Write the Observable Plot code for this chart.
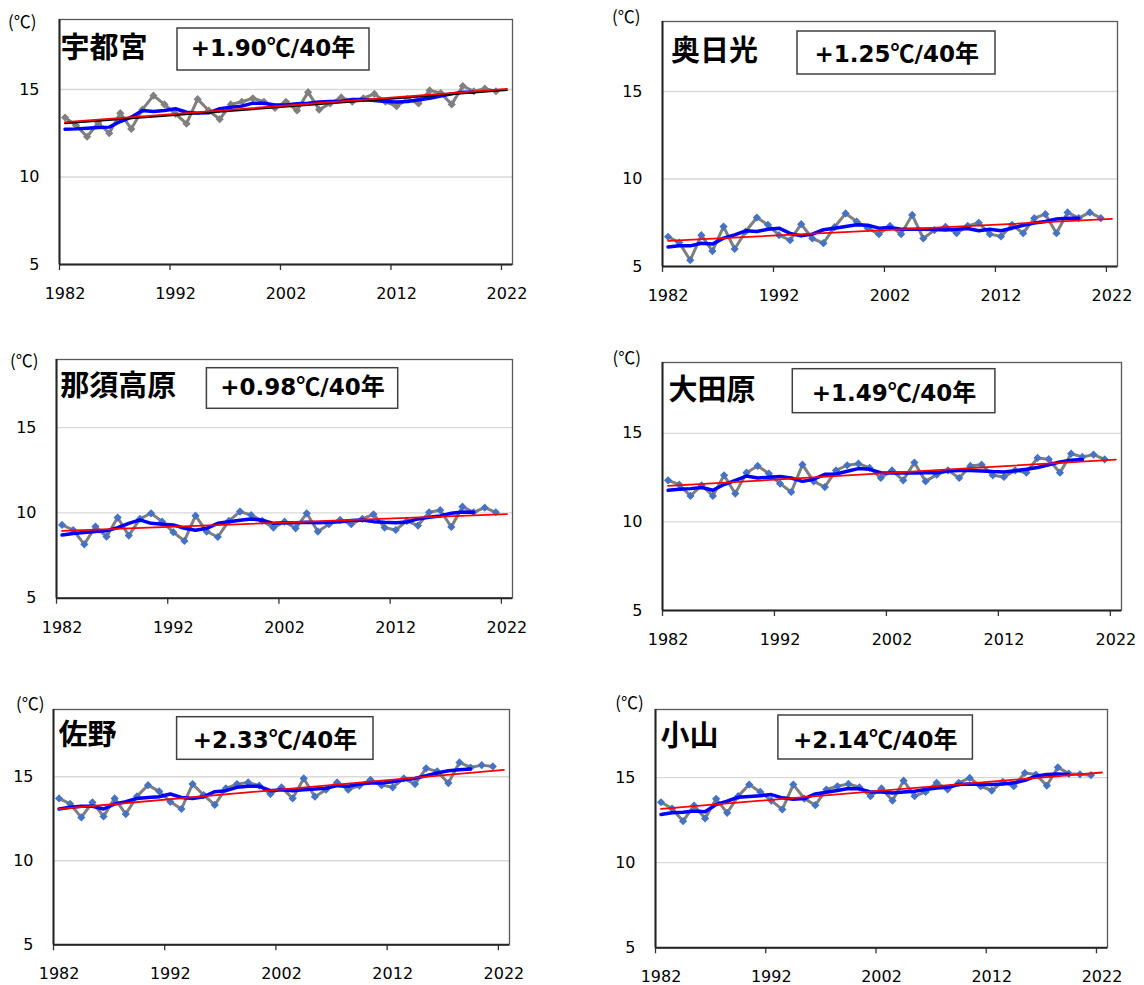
<!DOCTYPE html>
<html><head><meta charset="utf-8">
<script src="https://cdn.jsdelivr.net/npm/d3@7"></script>
<script src="https://cdn.jsdelivr.net/npm/@observablehq/plot@0.6"></script>
<style>
html,body{margin:0;padding:0;background:#fff;overflow:hidden;}
#page{position:relative;width:1144px;height:985px;overflow:hidden;}
</style></head><body><div id="page"></div>
<script>
// ---- data ----
const years = [1982,1983,1984,1985,1986,1987,1988,1989,1990,1991,1992,1993,1994,1995,1996,1997,1998,1999,2000,2001,2002,2003,2004,2005,2006,2007,2008,2009,2010,2011,2012,2013,2014,2015,2016,2017,2018,2019,2020,2021];
const maYears = [1982,1983,1984,1985,1986,1987,1988,1989,1990,1991,1992,1993,1994,1995,1996,1997,1998,1999,2000,2001,2002,2003,2004,2005,2006,2007,2008,2009,2010,2011,2012,2013,2014,2015,2016,2017,2018,2019];
const trendYears = [1982, 2022];
const xTickLabels = [1982, 1992, 2002, 2012, 2022];
const xTickMarks = [1981.5, 1991.5, 2001.5, 2011.5, 2021.5];
const yTicks = [5, 10, 15];
const yGrid = [10, 15];

const stationNames = ["宇都宮", "奥日光", "那須高原", "大田原", "佐野", "小山"];
const rateValues = ["+1.90", "+1.25", "+0.98", "+1.49", "+2.33", "+2.14"];
const rateUnit = ["℃", "/40", "年"];

const utsunomiya = [13.4,12.95,12.3,13.1,12.5,13.65,12.75,13.85,14.65,14.15,13.6,13.05,14.45,13.8,13.3,14.15,14.3,14.5,14.3,13.95,14.3,13.8,14.85,13.85,14.2,14.55,14.3,14.5,14.75,14.3,14.05,14.45,14.2,14.95,14.8,14.15,15.2,14.9,15.05,14.9];
const utsunomiyaMA = [12.73,12.75,12.79,12.83,12.85,13.17,13.42,13.8,13.74,13.8,13.9,13.7,13.65,13.67,13.9,13.99,14.05,14.22,14.22,14.12,14.12,14.18,14.22,14.28,14.31,14.33,14.43,14.43,14.37,14.31,14.28,14.31,14.41,14.5,14.62,14.75,14.85,14.85];
const utsunomiyaTrend = [13.13, 15.03];

const okunikko = [6.70,6.37,5.36,6.79,5.88,7.28,6.0,7.0,7.8,7.38,6.79,6.5,7.42,6.6,6.33,7.25,8.03,7.57,7.19,6.85,7.32,6.85,7.95,6.6,7.08,7.27,6.9,7.32,7.5,6.85,6.72,7.38,6.9,7.76,7.99,6.9,8.09,7.76,8.09,7.76];
const okunikkoMA = [6.12,6.18,6.18,6.33,6.28,6.62,6.81,7.04,7.0,7.13,7.19,6.89,6.75,6.85,7.1,7.19,7.29,7.38,7.36,7.19,7.23,7.13,7.13,7.13,7.12,7.08,7.13,7.17,7.04,7.13,7.04,7.19,7.36,7.48,7.57,7.71,7.76,7.76];
const okunikkoTrend = [6.47, 7.72];

const nasu = [9.30,9.0,8.16,9.2,8.61,9.73,8.67,9.65,9.98,9.49,8.87,8.36,9.84,8.91,8.59,9.53,10.08,9.88,9.53,9.14,9.49,9.1,9.98,8.91,9.34,9.59,9.34,9.65,9.92,9.14,9.0,9.53,9.26,10.04,10.16,9.18,10.37,10.04,10.31,10.04];
const nasuMA = [8.71,8.79,8.85,8.91,8.95,9.14,9.39,9.59,9.39,9.34,9.3,9.1,8.98,9.1,9.39,9.49,9.57,9.65,9.57,9.39,9.43,9.43,9.45,9.43,9.45,9.49,9.55,9.59,9.49,9.45,9.43,9.47,9.65,9.75,9.82,9.98,10.06,10.04];
const nasuTrend = [8.95, 9.93];

const ohtawara = [12.35,12.1,11.47,12.07,11.47,12.63,11.6,12.78,13.16,12.73,12.16,11.69,13.23,12.29,11.97,12.91,13.2,13.29,13.05,12.48,12.91,12.35,13.35,12.29,12.67,12.91,12.48,13.16,13.23,12.63,12.54,12.91,12.78,13.61,13.54,12.78,13.85,13.67,13.8,13.53];
const ohtawaraMA = [11.79,11.85,11.88,11.94,11.79,12.11,12.35,12.59,12.48,12.52,12.56,12.48,12.29,12.41,12.69,12.71,12.86,13.01,12.97,12.78,12.76,12.76,12.76,12.78,12.78,12.88,12.91,12.91,12.88,12.84,12.82,12.89,12.97,13.07,13.23,13.38,13.48,13.52];
const ohtawaraTrend = [12.03, 13.52];

const sano = [13.71,13.38,12.58,13.48,12.64,13.71,12.78,13.83,14.5,14.13,13.51,13.08,14.56,13.91,13.32,14.31,14.56,14.66,14.47,13.97,14.37,13.71,14.9,13.81,14.23,14.66,14.23,14.47,14.82,14.5,14.37,14.9,14.56,15.5,15.32,14.62,15.85,15.55,15.69,15.61];
const sanoMA = [13.08,13.18,13.24,13.24,13.08,13.38,13.51,13.71,13.77,13.81,13.97,13.77,13.71,13.81,14.11,14.17,14.37,14.43,14.43,14.17,14.23,14.17,14.23,14.27,14.31,14.47,14.43,14.56,14.62,14.62,14.7,14.82,14.9,15.06,15.22,15.36,15.42,15.46];
const sanoTrend = [13.08, 15.41];

const oyama = [13.55,13.18,12.44,13.36,12.6,13.75,12.93,13.91,14.59,14.16,13.65,13.13,14.59,13.77,13.38,14.3,14.49,14.63,14.43,13.91,14.36,13.65,14.82,13.91,14.16,14.69,14.3,14.69,14.98,14.49,14.24,14.75,14.49,15.27,15.18,14.53,15.6,15.23,15.19,15.14];
const oyamaMA = [12.83,12.93,12.97,13.03,12.99,13.42,13.61,13.85,13.89,13.93,14.0,13.81,13.73,13.77,14.04,14.14,14.24,14.36,14.34,14.16,14.16,14.1,14.16,14.2,14.3,14.39,14.43,14.59,14.63,14.59,14.59,14.63,14.69,14.84,15.08,15.18,15.21,15.18];
const oyamaTrend = [13.16, 15.30];

// ---- layout ----
const panels = [
  {temps: utsunomiya, ma: utsunomiyaMA, trend: utsunomiyaTrend, dot: "#808080", blackTrend: true,
   frame: {l: 59, t: 19, r: 512, b: 264}, label: {x: 60.5, y: 58}, box: {x: 177, y: 28, w: 192, h: 42}, boxText: {x: 273, y: 56}, unit: {x: 8, y: 28}},
  {temps: okunikko, ma: okunikkoMA, trend: okunikkoTrend, dot: "#4472c4",
   frame: {l: 662, t: 20.7, r: 1117, b: 265.7}, label: {x: 671, y: 61.3}, box: {x: 797, y: 31, w: 198, h: 43}, boxText: {x: 896.7, y: 61.7}, unit: {x: 612, y: 23}},
  {temps: nasu, ma: nasuMA, trend: nasuTrend, dot: "#4472c4",
   frame: {l: 56, t: 359, r: 512, b: 597.7}, label: {x: 60.3, y: 396.3}, box: {x: 206.4, y: 367.7, w: 191.3, h: 40.6}, boxText: {x: 302.5, y: 395}, unit: {x: 10, y: 367.3}},
  {temps: ohtawara, ma: ohtawaraMA, trend: ohtawaraTrend, dot: "#4472c4",
   frame: {l: 662, t: 362, r: 1121, b: 610}, label: {x: 668.6, y: 399.7}, box: {x: 792.3, y: 368.7, w: 202.6, h: 44}, boxText: {x: 894, y: 400.7}, unit: {x: 612.4, y: 364}},
  {temps: sano, ma: sanoMA, trend: sanoTrend, dot: "#4472c4",
   frame: {l: 53, t: 708.7, r: 509, b: 944}, label: {x: 58.4, y: 744.7}, box: {x: 176.6, y: 716.7, w: 196.4, h: 42.6}, boxText: {x: 275, y: 747.7}, unit: {x: 16, y: 709.7}},
  {temps: oyama, ma: oyamaMA, trend: oyamaTrend, dot: "#4472c4",
   frame: {l: 655, t: 709, r: 1107, b: 947.3}, label: {x: 660.4, y: 746.3}, box: {x: 777.9, y: 715, w: 194.5, h: 44}, boxText: {x: 875.2, y: 747.7}, unit: {x: 615.2, y: 708.7}}
];

const page = document.getElementById("page");
const ML = 60, MR = 22, MT = 2, MB = 42;

panels.forEach((p, i) => {
  const rows = years.map((y, k) => ({year: y, t: p.temps[k]}));
  const maRows = maYears.map((y, k) => ({year: y, v: p.ma[k]}));
  const trendRows = trendYears.map((y, k) => ({year: y, v: p.trend[k]}));
  const f = p.frame;
  const svg = Plot.plot({
    width: f.r - f.l + ML + MR,
    height: f.b - f.t + MT + MB,
    marginLeft: ML, marginRight: MR, marginTop: MT, marginBottom: MB,
    x: {domain: [1981.5, 2022.5], axis: null},
    y: {domain: [5, 19], axis: null},
    style: {fontFamily: "'DejaVu Sans', sans-serif", fontSize: "16px", color: "#000", background: "transparent", overflow: "visible"},
    marks: [
      Plot.gridY(yGrid, {stroke: "#d9d9d9", strokeOpacity: 1, strokeWidth: 1.3}),
      Plot.frame({stroke: "#595959", strokeWidth: 1.3}),
      Plot.axisY(yTicks, {tickSize: 0, tickPadding: 20, fontSize: 16, label: null, tickFormat: d => String(d)}),
      Plot.axisX(xTickMarks, {tickSize: 6, label: null, tickFormat: () => "", stroke: "#333", strokeWidth: 1.3}),
      Plot.axisX(xTickLabels, {tickSize: 0, tickPadding: 23, fontSize: 16, label: null, tickFormat: d => String(d)}),
      Plot.ruleX([1981.5], {stroke: "#262626", strokeWidth: 2}),
      Plot.ruleY([5], {stroke: "#262626", strokeWidth: 2}),
      Plot.line(rows, {x: "year", y: "t", stroke: "#7f7f7f", strokeWidth: 3}),
      Plot.dot(rows, {x: "year", y: "t", symbol: "diamond2", r: 3.7, fill: p.dot}),
      Plot.line(maRows, {x: "year", y: "v", stroke: "#0000ff", strokeWidth: 3.5}),
      p.blackTrend ? Plot.line(trendRows, {x: "year", y: "v", stroke: "#000", strokeWidth: 1.8, dy: 1.2}) : null,
      Plot.line(trendRows, {x: "year", y: "v", stroke: "#ff0000", strokeWidth: 1.8})
    ]
  });
  svg.style.position = "absolute";
  svg.style.left = (f.l - ML) + "px";
  svg.style.top = (f.t - MT) + "px";
  page.appendChild(svg);
});

// ---- text overlay: units, station names, trend boxes ----
const ov = d3.select(page).append("svg")
  .attr("width", 1144).attr("height", 985)
  .style("position", "absolute").style("left", "0px").style("top", "0px")
  .style("pointer-events", "none");

const CJK = "'Noto Sans CJK JP', sans-serif";
panels.forEach((p, i) => {
  ov.append("text").attr("x", p.unit.x).attr("y", p.unit.y)
    .attr("font-family", CJK).attr("font-size", 17)
    .attr("fill", "#000").text("(℃)");
  ov.append("text").attr("x", p.label.x).attr("y", p.label.y)
    .attr("font-family", CJK).attr("font-size", 29).attr("font-weight", "bold")
    .attr("fill", "#000").text(stationNames[i]);
  ov.append("rect").attr("x", p.box.x).attr("y", p.box.y).attr("width", p.box.w).attr("height", p.box.h)
    .attr("fill", "#fff").attr("stroke", "#404040").attr("stroke-width", 1.5);
  const t = ov.append("text").attr("x", p.boxText.x).attr("y", p.boxText.y).attr("text-anchor", "middle")
    .attr("font-family", "'DejaVu Sans', 'Noto Sans CJK JP', sans-serif").attr("font-size", 23).attr("font-weight", "bold")
    .attr("fill", "#000");
  t.append("tspan").text(rateValues[i]);
  t.append("tspan").attr("font-family", CJK).attr("font-size", 24).text(rateUnit[0]);
  t.append("tspan").text(rateUnit[1]);
  t.append("tspan").attr("font-family", CJK).attr("font-size", 24).text(rateUnit[2]);
});
</script></body></html>
